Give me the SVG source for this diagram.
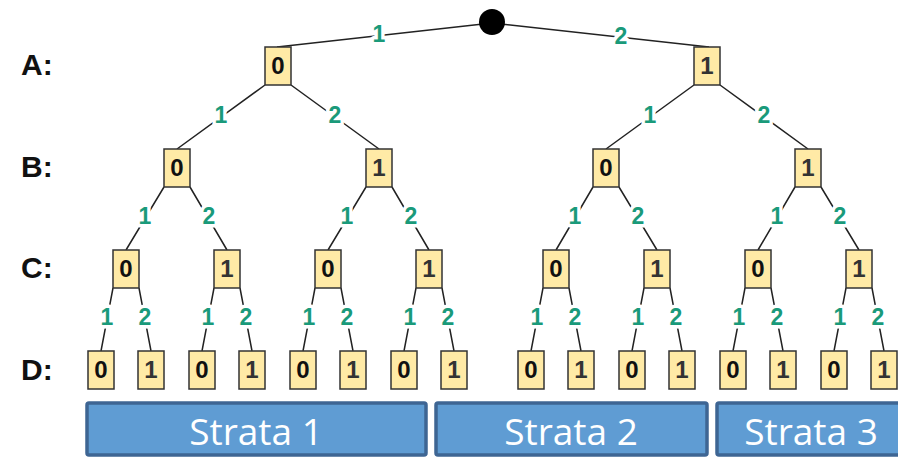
<svg xmlns="http://www.w3.org/2000/svg" width="898" height="457" viewBox="0 0 898 457">
  <style>
    .edge { stroke: #222; stroke-width: 1.5; fill: none; }
    .lbl { font-family: "Liberation Sans", Arial, sans-serif; font-weight: bold; font-size: 23px; fill: #1a9a7a; text-anchor: middle; stroke: #fff; stroke-width: 7; paint-order: stroke; stroke-linejoin: round; }
    .box { fill: #ffeaa6; stroke: #333; stroke-width: 1.5; }
    .val { font-family: "Liberation Sans", Arial, sans-serif; font-weight: bold; font-size: 24px; text-anchor: middle; }
    .v0 { fill: #111; }
    .v1 { fill: #333; }
    .lvl { font-family: "Liberation Sans", Arial, sans-serif; font-weight: bold; font-size: 30px; fill: #111; }
    .strata rect { fill: #5f9cd3; stroke: #3e6593; stroke-width: 3.5; }
    .strata text { font-family: "Open Sans", "Liberation Sans", sans-serif; font-size: 37px; fill: #fff; text-anchor: middle; }
  </style>

  <!-- level captions -->
  <g id="levels">
    <text class="lvl" x="21" y="75">A:</text>
    <text class="lvl" x="21" y="177">B:</text>
    <text class="lvl" x="21" y="278">C:</text>
    <text class="lvl" x="21" y="380">D:</text>
  </g>

  <!-- connectors: parent bottom corner to child top centre -->
  <g id="connectors">
    <path class="edge" d="M492 23 L277 47 M492 23 L709 47"/>
    <path class="edge" d="M265 85 L177 149 M291 85 L379 149 M694 85 L606 149 M720 85 L808 149"/>
    <path class="edge" d="M164 187 L126 250 M190 187 L227 250 M366 187 L328 250 M392 187 L429 250 M593 187 L556 250 M619 187 L657 250 M795 187 L758 250 M821 187 L859 250"/>
    <path class="edge" d="M113 288 L101 351 M139 288 L151 351 M214 288 L202 351 M240 288 L252 351 M315 288 L303 351 M341 288 L353 351 M416 288 L404 351 M442 288 L454 351 M543 288 L531 351 M569 288 L581 351 M644 288 L632 351 M670 288 L682 351 M745 288 L733 351 M771 288 L783 351 M846 288 L834 351 M872 288 L884 351"/>
    <g id="edge-labels">
      <text class="lbl" x="379" y="42">1</text>
      <text class="lbl" x="621" y="44">2</text>
      <text class="lbl" x="221" y="123">1</text>
      <text class="lbl" x="335" y="123">2</text>
      <text class="lbl" x="650" y="123">1</text>
      <text class="lbl" x="764" y="123">2</text>
      <text class="lbl" x="145" y="224">1</text>
      <text class="lbl" x="209" y="224">2</text>
      <text class="lbl" x="347" y="224">1</text>
      <text class="lbl" x="411" y="224">2</text>
      <text class="lbl" x="575" y="224">1</text>
      <text class="lbl" x="638" y="224">2</text>
      <text class="lbl" x="777" y="224">1</text>
      <text class="lbl" x="840" y="224">2</text>
      <text class="lbl" x="107" y="325">1</text>
      <text class="lbl" x="145" y="325">2</text>
      <text class="lbl" x="208" y="325">1</text>
      <text class="lbl" x="246" y="325">2</text>
      <text class="lbl" x="309" y="325">1</text>
      <text class="lbl" x="347" y="325">2</text>
      <text class="lbl" x="410" y="325">1</text>
      <text class="lbl" x="448" y="325">2</text>
      <text class="lbl" x="537" y="325">1</text>
      <text class="lbl" x="575" y="325">2</text>
      <text class="lbl" x="638" y="325">1</text>
      <text class="lbl" x="676" y="325">2</text>
      <text class="lbl" x="739" y="325">1</text>
      <text class="lbl" x="777" y="325">2</text>
      <text class="lbl" x="840" y="325">1</text>
      <text class="lbl" x="878" y="325">2</text>
    </g>
  </g>

  <!-- root -->
  <g id="root"><circle cx="492" cy="22" r="13" fill="#000"/></g>

  <!-- level A -->
  <g id="a0"><rect class="box" x="265" y="47" width="26" height="38"/><text class="val v0" x="278" y="74">0</text></g>
  <g id="a1"><rect class="box" x="694" y="47" width="26" height="38"/><text class="val v1" x="707" y="74">1</text></g>

  <!-- level B -->
  <g id="b00"><rect class="box" x="164" y="149" width="26" height="38"/><text class="val v0" x="177" y="176">0</text></g>
  <g id="b01"><rect class="box" x="366" y="149" width="26" height="38"/><text class="val v1" x="379" y="176">1</text></g>
  <g id="b10"><rect class="box" x="593" y="149" width="26" height="38"/><text class="val v0" x="606" y="176">0</text></g>
  <g id="b11"><rect class="box" x="795" y="149" width="26" height="38"/><text class="val v1" x="808" y="176">1</text></g>

  <!-- level C -->
  <g id="c000"><rect class="box" x="113" y="250" width="26" height="38"/><text class="val v0" x="126" y="277">0</text></g>
  <g id="c001"><rect class="box" x="214" y="250" width="26" height="38"/><text class="val v1" x="227" y="277">1</text></g>
  <g id="c010"><rect class="box" x="315" y="250" width="26" height="38"/><text class="val v0" x="328" y="277">0</text></g>
  <g id="c011"><rect class="box" x="416" y="250" width="26" height="38"/><text class="val v1" x="429" y="277">1</text></g>
  <g id="c100"><rect class="box" x="543" y="250" width="26" height="38"/><text class="val v0" x="556" y="277">0</text></g>
  <g id="c101"><rect class="box" x="644" y="250" width="26" height="38"/><text class="val v1" x="657" y="277">1</text></g>
  <g id="c110"><rect class="box" x="745" y="250" width="26" height="38"/><text class="val v0" x="758" y="277">0</text></g>
  <g id="c111"><rect class="box" x="846" y="250" width="26" height="38"/><text class="val v1" x="859" y="277">1</text></g>

  <!-- level D -->
  <g id="d0000"><rect class="box" x="88" y="351" width="26" height="38"/><text class="val v0" x="101" y="378">0</text></g>
  <g id="d0001"><rect class="box" x="138" y="351" width="26" height="38"/><text class="val v1" x="151" y="378">1</text></g>
  <g id="d0010"><rect class="box" x="189" y="351" width="26" height="38"/><text class="val v0" x="202" y="378">0</text></g>
  <g id="d0011"><rect class="box" x="239" y="351" width="26" height="38"/><text class="val v1" x="252" y="378">1</text></g>
  <g id="d0100"><rect class="box" x="290" y="351" width="26" height="38"/><text class="val v0" x="303" y="378">0</text></g>
  <g id="d0101"><rect class="box" x="340" y="351" width="26" height="38"/><text class="val v1" x="353" y="378">1</text></g>
  <g id="d0110"><rect class="box" x="391" y="351" width="26" height="38"/><text class="val v0" x="404" y="378">0</text></g>
  <g id="d0111"><rect class="box" x="441" y="351" width="26" height="38"/><text class="val v1" x="454" y="378">1</text></g>
  <g id="d1000"><rect class="box" x="518" y="351" width="26" height="38"/><text class="val v0" x="531" y="378">0</text></g>
  <g id="d1001"><rect class="box" x="568" y="351" width="26" height="38"/><text class="val v1" x="581" y="378">1</text></g>
  <g id="d1010"><rect class="box" x="619" y="351" width="26" height="38"/><text class="val v0" x="632" y="378">0</text></g>
  <g id="d1011"><rect class="box" x="669" y="351" width="26" height="38"/><text class="val v1" x="682" y="378">1</text></g>
  <g id="d1100"><rect class="box" x="720" y="351" width="26" height="38"/><text class="val v0" x="733" y="378">0</text></g>
  <g id="d1101"><rect class="box" x="770" y="351" width="26" height="38"/><text class="val v1" x="783" y="378">1</text></g>
  <g id="d1110"><rect class="box" x="821" y="351" width="26" height="38"/><text class="val v0" x="834" y="378">0</text></g>
  <g id="d1111"><rect class="box" x="871" y="351" width="26" height="38"/><text class="val v1" x="884" y="378">1</text></g>

  <!-- strata bands -->
  <g id="strata1" class="strata"><rect x="87" y="403" width="339" height="52" rx="2"/><text x="256" y="445">Strata 1</text></g>
  <g id="strata2" class="strata"><rect x="436" y="403" width="271" height="52" rx="2"/><text x="571" y="445">Strata 2</text></g>
  <g id="strata3" class="strata"><rect x="717" y="403" width="190" height="52" rx="2"/><text x="811" y="445">Strata 3</text></g>
</svg>
